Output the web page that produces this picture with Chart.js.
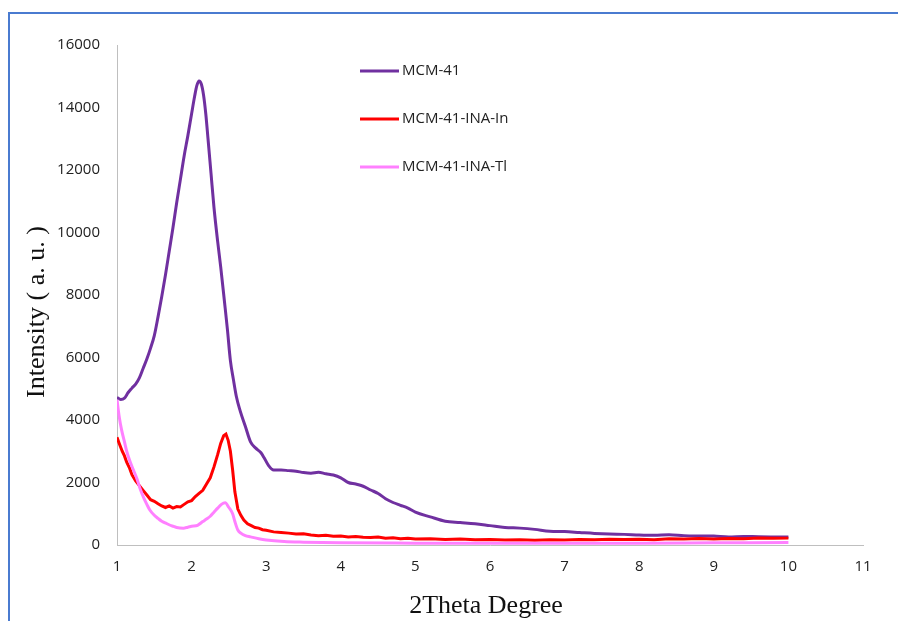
<!DOCTYPE html>
<html>
<head>
<meta charset="utf-8">
<title>XRD patterns</title>
<script src="https://cdn.jsdelivr.net/npm/chart.js@4.4.1/dist/chart.umd.min.js"></script>
<style>
    html, body { margin: 0; padding: 0; background: #fff; overflow: hidden; }
    #frame {
        position: absolute; left: 8px; top: 12px; width: 1000px; height: 800px;
        border-left: 2px solid #4a7bd0; border-top: 2px solid #4a7bd0;
    }
    #wrap { position: absolute; left: 0; top: 0; width: 898px; height: 621px; }
</style>
</head>
<body>
<div id="frame"></div>
<div id="wrap"><canvas id="xrdCanvas" width="898" height="621"></canvas></div>
<script>
// 2-theta positions and intensities for each sample
const mcmX = [1.00, 1.05, 1.10, 1.15, 1.20, 1.25, 1.30, 1.35, 1.40, 1.45, 1.50, 1.55, 1.60, 1.65, 1.70,
    1.75, 1.80, 1.85, 1.90, 1.95, 2.00, 2.04, 2.07, 2.10, 2.13, 2.16, 2.19, 2.22, 2.26, 2.30, 2.35, 2.39, 2.44,
    2.48, 2.52, 2.56, 2.60, 2.65, 2.72, 2.79, 2.86, 2.93, 2.97, 3.03, 3.10, 3.20, 3.30, 3.40, 3.50, 3.60,
    3.70, 3.80, 3.90, 4.00, 4.10, 4.20, 4.30, 4.40, 4.50, 4.60, 4.70, 4.80, 4.90, 5.00, 5.20, 5.40, 5.60,
    5.80, 6.00, 6.20, 6.40, 6.60, 6.80, 7.00, 7.20, 7.40, 7.60, 7.80, 8.00, 8.20, 8.40, 8.60, 8.80, 9.00,
    9.20, 9.40, 9.60, 9.80, 10.00];
const mcmY = [4720, 4660, 4700, 4880, 5020, 5150, 5350, 5650, 5950, 6300, 6700, 7300, 7950, 8650, 9400,
    10150, 10950, 11700, 12450, 13100, 13800, 14350, 14700, 14850, 14750, 14400, 13800, 13000, 11900, 10800, 9700, 8900, 7800,
    6900, 5900, 5300, 4750, 4300, 3800, 3300, 3100, 2950, 2800, 2550, 2400, 2400, 2380, 2360, 2320, 2300,
    2330, 2280, 2240, 2150, 2000, 1950, 1880, 1760, 1650, 1480, 1360, 1270, 1180, 1050, 900, 760, 720,
    680, 620, 560, 540, 500, 440, 430, 400, 370, 350, 340, 320, 310, 330, 300, 290, 285,
    260, 275, 265, 260, 260];

const inX = [1.00, 1.03, 1.07, 1.10, 1.13, 1.17, 1.20, 1.25, 1.30, 1.35, 1.40, 1.45, 1.50, 1.55, 1.60,
    1.65, 1.70, 1.75, 1.80, 1.85, 1.90, 1.95, 2.00, 2.05, 2.10, 2.15, 2.20, 2.25, 2.30, 2.35, 2.39, 2.43,
    2.46, 2.49, 2.52, 2.55, 2.58, 2.62, 2.66, 2.70, 2.75, 2.80, 2.85, 2.90, 2.95, 3.00, 3.10, 3.20, 3.30,
    3.40, 3.50, 3.60, 3.70, 3.80, 3.90, 4.00, 4.10, 4.20, 4.30, 4.40, 4.50, 4.60, 4.70, 4.80, 4.90, 5.00,
    5.20, 5.40, 5.60, 5.80, 6.00, 6.20, 6.40, 6.60, 6.80, 7.00, 7.20, 7.40, 7.60, 7.80, 8.00, 8.20, 8.40,
    8.60, 8.80, 9.00, 9.20, 9.40, 9.60, 9.80, 10.00];
const inY = [3450, 3250, 3000, 2850, 2650, 2450, 2250, 2050, 1900, 1750, 1600, 1450, 1400, 1320, 1250,
    1200, 1250, 1180, 1230, 1220, 1300, 1380, 1420, 1550, 1650, 1750, 1950, 2150, 2500, 2900, 3250, 3500,
    3550, 3350, 3000, 2400, 1700, 1150, 950, 800, 680, 620, 560, 540, 490, 470, 420, 400, 380,
    350, 360, 320, 300, 310, 280, 290, 260, 270, 250, 240, 255, 220, 230, 200, 215, 190,
    200, 180, 190, 170, 175, 160, 170, 150, 165, 160, 175, 170, 180, 175, 185, 170, 200,
    195, 205, 190, 210, 200, 225, 215, 220];

const tlX = [1.00, 1.03, 1.06, 1.10, 1.13, 1.17, 1.22, 1.27, 1.31, 1.36, 1.40, 1.44, 1.50, 1.55, 1.60,
    1.67, 1.75, 1.80, 1.89, 1.95, 2.00, 2.08, 2.15, 2.20, 2.25, 2.30, 2.35, 2.40, 2.45, 2.50, 2.55, 2.58,
    2.62, 2.66, 2.72, 2.79, 2.90, 3.00, 3.24, 3.50, 4.00, 5.00, 6.00, 7.00, 8.00, 9.00, 10.00];
const tlY = [4650, 4100, 3700, 3300, 3000, 2700, 2400, 2100, 1800, 1500, 1300, 1120, 950, 850, 760,
    680, 600, 560, 540, 570, 600, 630, 750, 830, 920, 1050, 1180, 1300, 1350, 1200, 1000, 750,
    480, 380, 300, 260, 200, 160, 110, 90, 70, 60, 55, 55, 60, 70, 80];

const seriesNames = ['MCM-41', 'MCM-41-INA-In', 'MCM-41-INA-Tl'];
const seriesColors = ['#7030a0', '#ff0000', '#ff80ff'];
const xTicks = [1, 2, 3, 4, 5, 6, 7, 8, 9, 10, 11];
const yTicks = [0, 2000, 4000, 6000, 8000, 10000, 12000, 14000, 16000];

const toPoints = (xs, ys) => xs.map((x, i) => ({ x: x, y: ys[i] }));

// Legend lines and axis titles drawn straight onto the canvas
const decorations = {
    id: 'decorations',
    afterDraw(chart) {
        const ctx = chart.ctx;
        ctx.save();
        ctx.font = '15px "Open Sans"';
        ctx.textBaseline = 'middle';
        ctx.textAlign = 'left';
        seriesNames.forEach((name, i) => {
            const y = 71 + i * 48;
            ctx.strokeStyle = seriesColors[i];
            ctx.lineWidth = 3;
            ctx.beginPath();
            ctx.moveTo(360, y);
            ctx.lineTo(399, y);
            ctx.stroke();
            ctx.fillStyle = '#222';
            ctx.fillText(name, 402, y);
        });

        ctx.fillStyle = '#111';
        ctx.font = '26px "Liberation Serif"';
        ctx.textAlign = 'center';
        ctx.textBaseline = 'alphabetic';
        ctx.fillText('2Theta Degree', 486, 613);

        ctx.translate(44, 312);
        ctx.rotate(-Math.PI / 2);
        ctx.fillText('Intensity ( a. u. )', 0, 0);
        ctx.restore();
    }
};

const ctx = document.getElementById('xrdCanvas').getContext('2d');
new Chart(ctx, {
    type: 'line',
    data: {
        // drawn in reverse so the purple trace sits on top
        datasets: [
            { label: seriesNames[2], data: toPoints(tlX, tlY), borderColor: seriesColors[2] },
            { label: seriesNames[1], data: toPoints(inX, inY), borderColor: seriesColors[1], tension: 0, cubicInterpolationMode: 'default' },
            { label: seriesNames[0], data: toPoints(mcmX, mcmY), borderColor: seriesColors[0] }
        ]
    },
    options: {
        responsive: false,
        animation: false,
        events: [],
        layout: { padding: { top: 45, right: 35, left: 0, bottom: 0 } },
        elements: {
            point: { radius: 0 },
            line: { borderWidth: 3, cubicInterpolationMode: 'monotone', fill: false }
        },
        plugins: { legend: { display: false }, tooltip: { enabled: false } },
        scales: {
            x: {
                type: 'linear',
                min: 1,
                max: 11,
                afterFit(scale) { scale.height = 76; },
                afterBuildTicks(scale) { scale.ticks = xTicks.map(v => ({ value: v })); },
                grid: { display: false, drawTicks: false },
                border: { display: true, color: '#bfbfbf', width: 1 },
                ticks: { padding: 13, color: '#222', font: { family: 'Open Sans', size: 15 } }
            },
            y: {
                type: 'linear',
                min: 0,
                max: 16000,
                afterFit(scale) { scale.width = 117; },
                afterBuildTicks(scale) { scale.ticks = yTicks.map(v => ({ value: v })); },
                grid: { display: false, drawTicks: false },
                border: { display: true, color: '#bfbfbf', width: 1 },
                ticks: {
                    padding: 17,
                    color: '#222',
                    font: { family: 'Open Sans', size: 15 },
                    callback: v => String(v)
                }
            }
        }
    },
    plugins: [decorations]
});
</script>
</body>
</html>
